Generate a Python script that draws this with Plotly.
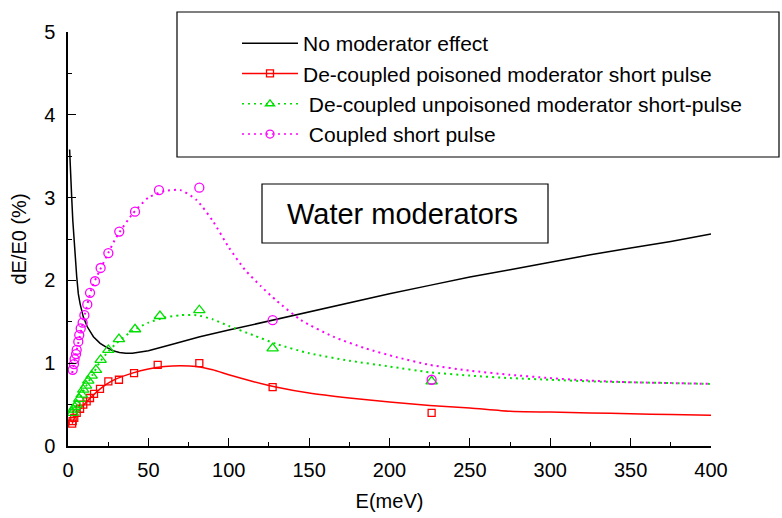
import plotly.graph_objects as go

# ---------------- data ----------------
# No moderator effect (black solid)
E_none = [1.0, 1.3, 1.7, 2.3, 3.0, 3.7, 4.4, 5.4, 6.4, 7.5, 9.5, 12, 15.8, 20, 24, 28, 32, 36, 40,
          50, 65, 82, 100, 125, 150, 175, 200, 225, 250, 275, 300, 325, 350, 375, 400]
dE_none = [3.58, 3.40, 3.20, 3.00, 2.72, 2.50, 2.32, 2.05, 1.84, 1.72, 1.56, 1.44, 1.32, 1.24, 1.19,
           1.15, 1.13, 1.12, 1.12, 1.15, 1.23, 1.32, 1.40, 1.51, 1.62, 1.73, 1.84, 1.94, 2.04, 2.13,
           2.22, 2.31, 2.39, 2.47, 2.56]

# De-coupled poisoned moderator short pulse (red)
E_pois_curve = [2.6, 5, 10, 15, 20, 25, 30, 40, 50, 60, 70, 80, 90, 100, 115, 130, 150, 175, 200,
                225, 250, 275, 300, 325, 350, 375, 400]
dE_pois_curve = [0.27, 0.38, 0.50, 0.60, 0.69, 0.76, 0.81, 0.88, 0.93, 0.96, 0.97, 0.96, 0.92, 0.86,
                 0.78, 0.71, 0.64, 0.58, 0.53, 0.49, 0.46, 0.42, 0.41, 0.40, 0.39, 0.38, 0.37]
E_pois_pts = [2.6, 2.9, 3.9, 5.4, 7.5, 9.5, 11.6, 13.7, 16.2, 19.9, 25.1, 31.7, 41.1, 55.8, 81.7,
              127.3, 226.2]
dE_pois_pts = [0.27, 0.30, 0.34, 0.40, 0.45, 0.50, 0.54, 0.58, 0.63, 0.69, 0.78, 0.80, 0.88, 0.98,
               1.00, 0.71, 0.40]

# De-coupled unpoisoned moderator short-pulse (green)
E_unp_curve = [2.6, 5, 10, 15, 20, 25, 30, 40, 50, 60, 70, 80, 90, 100, 115, 130, 150, 175, 200,
               225, 250, 275, 300, 325, 350, 375, 400]
dE_unp_curve = [0.40, 0.50, 0.68, 0.85, 1.02, 1.14, 1.24, 1.39, 1.49, 1.55, 1.58, 1.58, 1.53, 1.45,
                1.34, 1.23, 1.12, 1.03, 0.96, 0.89, 0.85, 0.82, 0.80, 0.78, 0.77, 0.76, 0.75]
E_unp_pts = [2.9, 3.3, 4.2, 5.4, 7.0, 8.5, 9.5, 11.2, 12.6, 14.7, 17.4, 20.3, 25.1, 31.7, 41.7,
             57.2, 81.7, 127.3, 226.2]
dE_unp_pts = [0.40, 0.44, 0.47, 0.50, 0.57, 0.62, 0.68, 0.73, 0.79, 0.85, 0.92, 1.04, 1.16, 1.29,
              1.41, 1.57, 1.64, 1.18, 0.78]

# Coupled short pulse (magenta)
E_cpl_curve = [2.6, 5, 10, 15, 20, 25, 30, 40, 50, 60, 70, 80, 90, 100, 110, 120, 130, 145, 165,
               185, 205, 225, 250, 275, 300, 325, 350, 375, 400]
dE_cpl_curve = [0.88, 1.12, 1.55, 1.92, 2.13, 2.33, 2.52, 2.80, 3.00, 3.08, 3.09, 2.97, 2.72, 2.40,
                2.13, 1.93, 1.75, 1.52, 1.32, 1.18, 1.07, 0.98, 0.91, 0.86, 0.82, 0.79, 0.77, 0.76,
                0.75]
E_cpl_pts = [2.9, 3.7, 4.1, 5.0, 5.4, 6.4, 7.0, 7.9, 9.1, 10.2, 12.0, 13.7, 16.8, 20.3, 25.1, 31.9,
             41.7, 56.6, 81.7, 127.3, 226.2]
dE_cpl_pts = [0.92, 0.99, 1.05, 1.11, 1.16, 1.26, 1.34, 1.42, 1.49, 1.58, 1.71, 1.85, 1.99, 2.15,
              2.33, 2.59, 2.83, 3.09, 3.12, 1.52, 0.80]

names = ["No moderator effect",
         "De-coupled poisoned moderator short pulse",
         " De-coupled unpoisoned moderator short-pulse",
         " Coupled short pulse"]

# ---------------- styles ----------------
FONT = "Liberation Sans, Arial, sans-serif"
RED, GREEN, MAG = "#ff0000", "#00e000", "#ff00ff"
DOT = "2px,4px"

fig = go.Figure()

# curves
fig.add_trace(go.Scatter(x=E_none, y=dE_none, mode="lines", showlegend=False,
                         line=dict(color="black", width=1.5)))
fig.add_trace(go.Scatter(x=E_pois_curve, y=dE_pois_curve, mode="lines", showlegend=False,
                         line=dict(color=RED, width=1.5, shape="spline", smoothing=0.6)))
fig.add_trace(go.Scatter(x=E_unp_curve, y=dE_unp_curve, mode="lines", showlegend=False,
                         line=dict(color=GREEN, width=2, dash=DOT, shape="spline", smoothing=0.6)))
fig.add_trace(go.Scatter(x=E_cpl_curve, y=dE_cpl_curve, mode="lines", showlegend=False,
                         line=dict(color=MAG, width=2, dash=DOT, shape="spline", smoothing=0.6)))

# points
fig.add_trace(go.Scatter(x=E_pois_pts, y=dE_pois_pts, mode="markers", showlegend=False,
                         marker=dict(symbol="square-open", size=7, color=RED,
                                     line=dict(width=1.3, color=RED))))
fig.add_trace(go.Scatter(x=E_unp_pts, y=dE_unp_pts, mode="markers", showlegend=False,
                         marker=dict(symbol="triangle-up-open", size=10, color=GREEN,
                                     line=dict(width=1.3, color=GREEN))))
fig.add_trace(go.Scatter(x=E_cpl_pts, y=dE_cpl_pts, mode="markers", showlegend=False,
                         marker=dict(symbol="circle-open", size=9, color=MAG,
                                     line=dict(width=1.3, color=MAG))))

# legend entries
fig.add_trace(go.Scatter(x=[None], y=[None], mode="lines", name=names[0],
                         line=dict(color="black", width=1.5)))
fig.add_trace(go.Scatter(x=[None], y=[None], mode="lines+markers", name=names[1],
                         line=dict(color=RED, width=1.5),
                         marker=dict(symbol="square-open", size=7, color=RED,
                                     line=dict(width=1.3, color=RED))))
fig.add_trace(go.Scatter(x=[None], y=[None], mode="lines+markers", name=names[2],
                         line=dict(color=GREEN, width=1.5, dash=DOT),
                         marker=dict(symbol="triangle-up-open", size=8, color=GREEN,
                                     line=dict(width=1.3, color=GREEN))))
fig.add_trace(go.Scatter(x=[None], y=[None], mode="lines+markers", name=names[3],
                         line=dict(color=MAG, width=1.5, dash=DOT),
                         marker=dict(symbol="circle-open", size=8, color=MAG,
                                     line=dict(width=1.3, color=MAG))))

L, R, T, B = 68, 71, 32, 72
W, H = 782, 518
pw, ph = W - L - R, H - T - B


def px(x):
    return (x - L) / pw


def py(y):
    return (H - B - y) / ph


axis_common = dict(showgrid=False, zeroline=False, showline=True, linecolor="black", linewidth=1.5,
                   ticks="inside", ticklen=8, tickwidth=1.2, tickcolor="black", mirror=False,
                   tickfont=dict(family=FONT, size=20, color="black"),
                   title_font=dict(family=FONT, size=20, color="black"))

fig.update_layout(
    width=W, height=H,
    margin=dict(l=L, r=R, t=T, b=B, autoexpand=False),
    paper_bgcolor="white", plot_bgcolor="white",
    font=dict(family=FONT, size=20, color="black"),
    xaxis=dict(range=[0, 400], tick0=0, dtick=50, ticklabelstandoff=5,
               minor=dict(ticks="inside", ticklen=4, dtick=25, tickcolor="black", tickwidth=1.2),
               title=dict(text="E(meV)", standoff=14), **axis_common),
    yaxis=dict(range=[0, 5], tick0=0, dtick=1, ticklabelstandoff=7,
               minor=dict(ticks="inside", ticklen=4, dtick=0.5, tickcolor="black", tickwidth=1.2),
               title=dict(text="dE/E0 (%)", standoff=12), **axis_common),
    legend=dict(x=px(237), y=py(23), xanchor="left", yanchor="top",
                bgcolor="rgba(0,0,0,0)", borderwidth=0,
                font=dict(family=FONT, size=21, color="black"),
                itemwidth=56, tracegroupgap=0),
    shapes=[
        dict(type="rect", xref="paper", yref="paper", x0=px(177), x1=px(779), y0=py(157), y1=py(12),
             line=dict(color="black", width=1.2)),
        dict(type="rect", xref="paper", yref="paper", x0=px(262), x1=px(548), y0=py(243), y1=py(184),
             line=dict(color="black", width=1.2)),
    ],
    annotations=[
        dict(text="Water moderators", xref="paper", yref="paper", x=px(402), y=py(214),
             xanchor="center", yanchor="middle", showarrow=False,
             font=dict(family=FONT, size=29, color="black")),
    ],
)

fig.write_html("out.html")
